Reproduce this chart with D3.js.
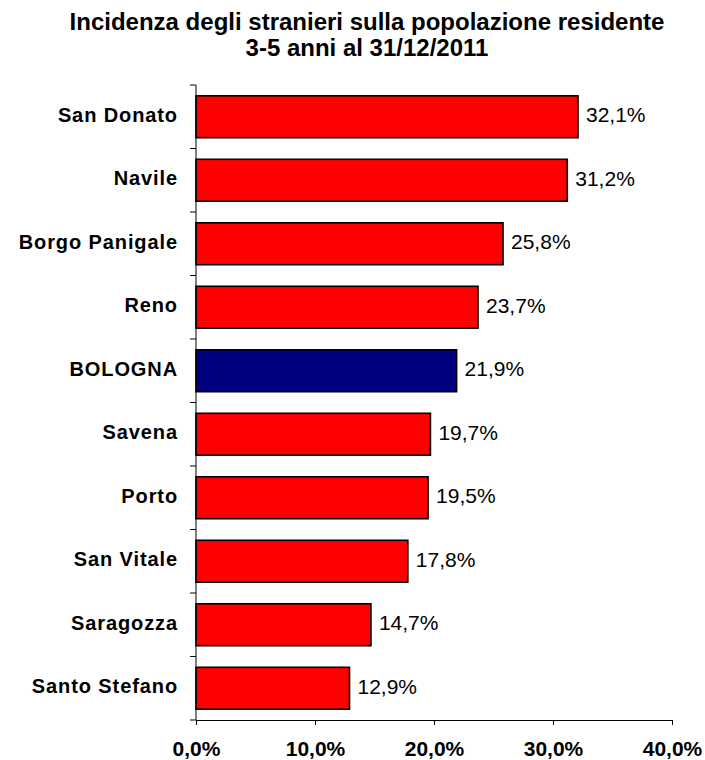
<!DOCTYPE html>
<html>
<head>
<meta charset="utf-8">
<script src="https://cdn.jsdelivr.net/npm/d3@7"></script>
<style>
  body { margin: 0; background: #fff; }
  text { font-family: "Liberation Sans", Arial, sans-serif; fill: #000; }
</style>
</head>
<body>
<div id="chart"></div>
<script>
const categories = ['San Donato', 'Navile', 'Borgo Panigale', 'Reno', 'BOLOGNA',
  'Savena', 'Porto', 'San Vitale', 'Saragozza', 'Santo Stefano'];
const values = [32.1, 31.2, 25.8, 23.7, 21.9, 19.7, 19.5, 17.8, 14.7, 12.9];
const xTicks = [0, 10, 20, 30, 40];
const titleLines = ['Incidenza degli stranieri sulla popolazione residente', '3-5 anni al 31/12/2011'];

const width = 705, height = 760;
const margin = {top: 85, right: 33, bottom: 40, left: 196};

const svg = d3.select('#chart').append('svg')
    .attr('width', width)
    .attr('height', height);

const x = d3.scaleLinear()
    .domain([0, 40])
    .range([margin.left, width - margin.right]);

const y = d3.scaleBand()
    .domain(categories)
    .range([margin.top, height - margin.bottom])
    .paddingInner(0.34)
    .paddingOuter(0.17);

const fmt = d => d.toFixed(1).replace('.', ',') + '%';

// title
svg.append('g').selectAll('text')
  .data(titleLines)
  .join('text')
    .attr('x', 367)
    .attr('y', (d, i) => 30 + i * 26)
    .attr('text-anchor', 'middle')
    .style('font-size', '24px')
    .style('font-weight', 'bold')
    .text(d => d);

// bars
svg.append('g').selectAll('rect')
  .data(values)
  .join('rect')
    .attr('x', x(0))
    .attr('y', (d, i) => y(categories[i]))
    .attr('width', d => x(d) - x(0))
    .attr('height', y.bandwidth())
    .attr('fill', (d, i) => categories[i] === 'BOLOGNA' ? '#000080' : '#ff0000')
    .attr('stroke', '#000')
    .attr('stroke-width', 1.6);

// value labels
svg.append('g').selectAll('text')
  .data(values)
  .join('text')
    .attr('x', d => x(d) + 8)
    .attr('y', (d, i) => y(categories[i]) + y.bandwidth() / 2 - 2)
    .attr('dy', '0.35em')
    .style('font-size', '21px')
    .text(fmt);

// y axis: line plus ticks at band boundaries
const step = y.step();
const yAxis = svg.append('g');
yAxis.append('line')
    .attr('x1', x(0)).attr('x2', x(0))
    .attr('y1', margin.top).attr('y2', height - margin.bottom)
    .attr('stroke', '#000');
yAxis.selectAll('.tick')
  .data(d3.range(categories.length + 1))
  .join('line')
    .attr('class', 'tick')
    .attr('x1', x(0) - 6).attr('x2', x(0))
    .attr('y1', i => margin.top + i * step)
    .attr('y2', i => margin.top + i * step)
    .attr('stroke', '#000');
yAxis.selectAll('.lab')
  .data(categories)
  .join('text')
    .attr('class', 'lab')
    .attr('x', x(0) - 18)
    .attr('y', d => y(d) + y.bandwidth() / 2 - 2)
    .attr('dy', '0.35em')
    .attr('text-anchor', 'end')
    .style('font-size', '20px')
    .style('font-weight', 'bold')
    .style('letter-spacing', '0.9px')
    .text(d => d);

// x axis
const xAxis = svg.append('g')
    .attr('transform', `translate(0,${height - margin.bottom})`)
    .call(d3.axisBottom(x).tickValues(xTicks).tickSize(5).tickSizeOuter(0)
      .tickFormat(fmt));
xAxis.select('.domain').attr('stroke', '#000');
xAxis.selectAll('.tick line').attr('stroke', '#000');
xAxis.selectAll('.tick text')
    .attr('y', 21)
    .style('font-size', '21px')
    .style('font-weight', 'bold')
    .style('font-family', '"Liberation Sans", Arial, sans-serif')
    .attr('fill', '#000');
</script>
</body>
</html>
